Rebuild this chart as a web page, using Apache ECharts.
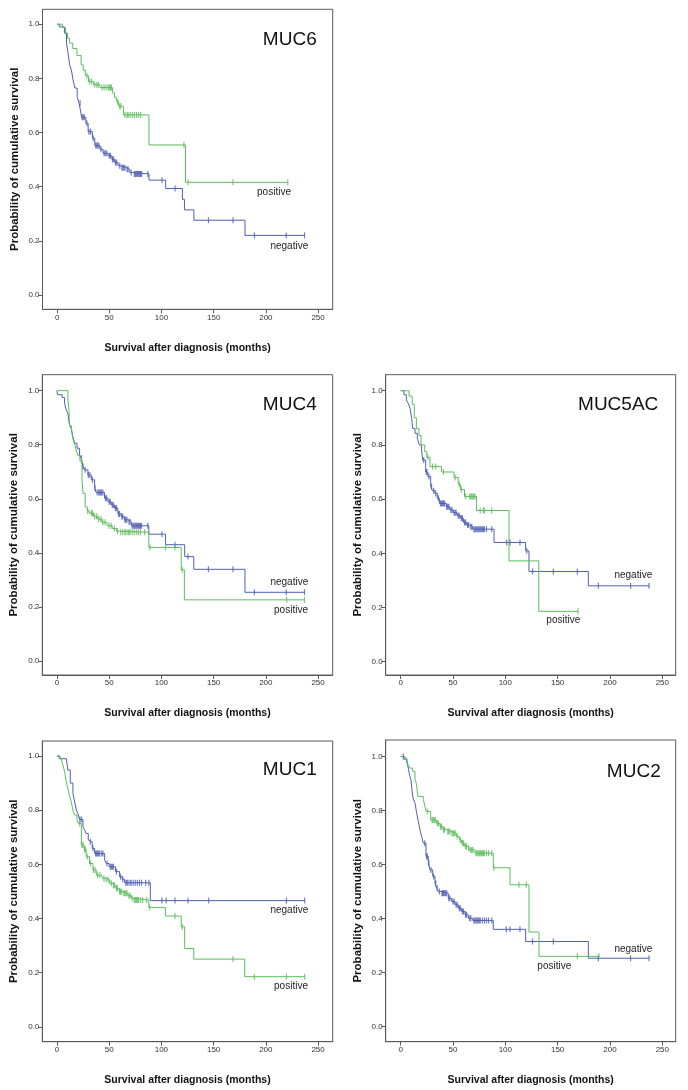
<!DOCTYPE html>
<html>
<head>
<meta charset="utf-8">
<script src="https://cdn.jsdelivr.net/npm/echarts@6/dist/echarts.min.js"></script>
<style>
html,body{margin:0;padding:0;background:#fff;}
#chart{width:688px;height:1090px;}
</style>
</head>
<body>
<div id="chart"></div>
<script>
// ---------- DATA ----------
const panelNames = ['MUC6', 'MUC4', 'MUC5AC', 'MUC1', 'MUC2'];
const xTicks = [0, 50, 100, 150, 200, 250];
const yTicks = [0, 0.2, 0.4, 0.6, 0.8, 1.0];
const xTitle = 'Survival after diagnosis (months)';
const yTitle = 'Probability of cumulative survival';
const groupNames = ['negative', 'positive'];

// MUC6
const muc6NegSteps = [[0,1],[2,0.99],[7,0.967],[9,0.93],[10.5,0.893],[12,0.85],[13.7,0.83],[15.3,0.794],[17,0.764],[19.2,0.733],[21,0.708],[22.3,0.683],[23.5,0.656],[27.5,0.634],[29.7,0.603],[33.8,0.579],[36.1,0.552],[41,0.538],[44,0.523],[49,0.514],[52.5,0.501],[55.2,0.489],[58.4,0.477],[61.6,0.47],[66.4,0.464],[69.6,0.452],[72.8,0.447],[88,0.424],[104,0.393],[120,0.353],[122,0.314],[131,0.276],[180,0.22]];
const muc6NegEnd = 237;
const muc6NegCens = [22,24,25,26,28.5,30.5,32,34.5,37,38,39,40,42,45,46,47.5,50,51,53,54,56,57,60,62,63,64,65,67,68,71,74,75,76,77,78,79,80,81,87,100.5,113,145,168.5,189,219.5,237];
const muc6PosSteps = [[0,1],[5,0.988],[8,0.967],[10,0.948],[12,0.93],[15,0.91],[19,0.884],[23,0.85],[25,0.83],[27,0.81],[30,0.788],[35,0.776],[41,0.766],[53,0.746],[55,0.73],[57,0.714],[59,0.697],[63.5,0.665],[88,0.554],[123,0.416]];
const muc6PosEnd = 221;
const muc6PosCens = [28.5,31,33,36,38,39.5,43,45,47,49,50,51,52,58,60,61,65,67,68,70,72,74,76,78,80,121.5,125.5,168.5,221];

// MUC4
const muc4NegSteps = [[0,1],[0.5,0.985],[5,0.975],[7.3,0.953],[8.9,0.928],[10.5,0.916],[12.1,0.873],[13.7,0.86],[15.3,0.83],[16.9,0.805],[19.2,0.787],[21.7,0.762],[23.3,0.75],[24.9,0.719],[26.5,0.707],[29.7,0.688],[32.9,0.67],[36.1,0.639],[37.7,0.623],[45.6,0.602],[48.9,0.589],[52,0.577],[55.2,0.565],[58.4,0.544],[61.6,0.534],[64.8,0.522],[68,0.515],[71.2,0.5],[88,0.469],[104,0.43],[122.3,0.386],[131,0.339],[180,0.254]];
const muc4NegEnd = 237;
const muc4NegCens = [23.5,25,27,30,31.5,34,36.5,38.5,40,41,42,43,44,46.5,47.5,50,51,53,54,56,57,59,60,62,63,65,66,67,69,70,72,73,74,75,76,77,78,79,80,81,87,100.5,113,125.5,145,168.5,189,219.5,237];
const muc4PosSteps = [[0,1],[10.5,0.97],[11.5,0.93],[12,0.87],[14,0.85],[15.5,0.82],[17,0.8],[18.5,0.78],[20,0.76],[22,0.74],[24,0.67],[25,0.62],[27,0.57],[29,0.555],[31,0.547],[35,0.535],[39,0.525],[43,0.513],[48,0.5],[53,0.49],[57,0.48],[60,0.476],[88,0.42],[119,0.337],[122,0.226]];
const muc4PosEnd = 237;
const muc4PosCens = [23.5,29.5,33,34,36,38,40,42,44,46,50,52,55,58,61,63,65,66,68,69,70,72,74,76,78,80,84,89,104,113,120,220,237];

// MUC5AC
const muc5acNegSteps = [[0,1],[3.2,0.985],[5.4,0.966],[7.3,0.953],[9,0.935],[10.5,0.898],[11.5,0.861],[13.7,0.843],[15.9,0.824],[17.8,0.8],[20,0.781],[21,0.744],[23.9,0.7],[26,0.683],[28.7,0.646],[30.5,0.631],[32.8,0.621],[35,0.603],[37,0.584],[43.6,0.572],[47,0.56],[50.3,0.55],[54,0.539],[57.3,0.529],[60,0.514],[63,0.504],[66.2,0.498],[68.8,0.489],[89.2,0.44],[119.4,0.409],[122.6,0.333],[179.3,0.28]];
const muc5acNegEnd = 237.3;
const muc5acNegCens = [22,24.5,25,27,29.5,31.5,33.5,36,38,39,40,41,42,44,45,46,48,49,51,52,53,55,56,58,59,61,62,64,65,67,68,70,71,72,73,74,75,76,77,78,79,80,82,87,101.3,104.5,114,120.5,126,145.9,168.8,188.9,219.7,237.3];
const muc5acPosSteps = [[0,1],[8,0.98],[11,0.95],[13,0.9],[15,0.86],[17.5,0.835],[19.5,0.8],[23,0.775],[25,0.754],[28,0.72],[39,0.7],[51,0.68],[55,0.655],[57,0.635],[61,0.61],[72.5,0.558],[103.5,0.372],[132,0.186]];
const muc5acPosEnd = 169.5;
const muc5acPosCens = [26,30.5,33.5,41,52,56,58,62,66,67,68,69,70,71,76,79,80,87,169.5];

// MUC1
const muc1NegSteps = [[0,1],[3,0.99],[9,0.985],[10.5,0.948],[12.8,0.9],[15.3,0.862],[17,0.83],[18.6,0.8],[20,0.788],[21.7,0.766],[24.9,0.739],[26.5,0.727],[28,0.714],[30,0.69],[31.3,0.683],[33.8,0.659],[36.1,0.64],[45.7,0.616],[47.3,0.603],[50,0.591],[56,0.573],[60,0.554],[62.6,0.545],[64.8,0.532],[89.4,0.466]];
const muc1NegEnd = 237.2;
const muc1NegCens = [22,23.5,32,34.5,37,38,39,40,41,43,44,48,51,52,53,54,57,61,63,66,67,68,70,71,73,75,77,79,81,85,88,100.5,104.6,113,125.5,145.3,219.7,237.2];
const muc1PosSteps = [[0,1],[2,0.99],[4,0.985],[5.7,0.967],[7.4,0.942],[8.9,0.905],[10.5,0.88],[12.1,0.85],[13.8,0.83],[15.3,0.8],[17,0.782],[19.2,0.764],[20.5,0.751],[23.4,0.671],[26,0.655],[28,0.628],[31.2,0.603],[34.5,0.579],[37.7,0.56],[42.5,0.554],[44,0.548],[46.6,0.544],[50.4,0.53],[53.6,0.523],[56.5,0.511],[60,0.499],[63.3,0.493],[68,0.484],[71.2,0.475],[73,0.468],[88,0.441],[103.8,0.409],[119,0.369],[122.3,0.289],[131,0.25],[179.8,0.185]];
const muc1PosEnd = 237.2;
const muc1PosCens = [21.7,24,25,26.5,27,29,32,35,36.5,39,41,45,47,49,52,54,55,57,58,60,61,62,64,65,66,67,69,70,72,74,75,76,77,78,80,82,86,88.8,113,120,168.6,189,219.7,237.2];

// MUC2
const muc2NegSteps = [[0,1],[3.2,0.99],[5.7,0.981],[7.3,0.957],[8.6,0.93],[9.8,0.914],[10.8,0.877],[11.8,0.846],[13.7,0.827],[15.3,0.79],[16.9,0.759],[18.5,0.728],[20,0.704],[21.7,0.679],[24.2,0.63],[26.4,0.605],[28,0.58],[30.6,0.556],[32.8,0.531],[34.4,0.512],[36,0.5],[38.8,0.494],[45.5,0.475],[48.7,0.463],[52,0.451],[55.1,0.438],[58.3,0.426],[61.5,0.414],[64.6,0.401],[68.8,0.393],[88.5,0.36],[119.4,0.315],[179.3,0.253]];
const muc2NegEnd = 237.3;
const muc2NegCens = [2.5,23,25,25.5,27,29,31.5,33.5,35,37,39.5,40,41,42,43,44,46,47,50,51,53,54,56,57,59,60,62,63,66,67,70,71,72,73,74,75,76,78,80,82,84,87,101,104.5,114,126,145.9,188.9,219.7,237.3];
const muc2PosSteps = [[0,1],[3,0.994],[5.7,0.988],[7,0.969],[8.9,0.957],[11.5,0.944],[13.7,0.914],[15,0.9],[16.5,0.852],[21.7,0.84],[23.2,0.815],[24.5,0.796],[28.7,0.765],[34,0.753],[37.6,0.74],[40.5,0.729],[44,0.722],[48,0.716],[53.2,0.704],[56,0.691],[58.3,0.679],[61.2,0.667],[64.6,0.66],[66,0.654],[71,0.642],[88.5,0.588],[104.5,0.525],[122.6,0.35],[132.2,0.26]];
const muc2PosEnd = 189.5;
const muc2PosCens = [25.5,30,31,32,33,35,36,38,39,41,42,45,46,47,49,50,51,52,54,57,59,60,62,63,65,67,68,69,72,73,74,75,76,77,78,79,80,82,84,87,89,113,120,168.8,189.5];

// ---------- LAYOUT / STYLE ----------
const colors = { negative: '#4f5fb2', positive: '#5cbd5c' };
const FONT = '"Liberation Sans", Arial, Helvetica, sans-serif';

const panels = [
  { name: 'MUC6', neg: [muc6NegSteps, muc6NegEnd, muc6NegCens], pos: [muc6PosSteps, muc6PosEnd, muc6PosCens],
    grid: { left: 42.5, top: 9.3, width: 290.2, height: 300 }, x: [-14, 264], y: [-0.053, 1.055],
    title: [316.7, 40], negLbl: [289.3, 246.7], posLbl: [274, 192.3] },
  { name: 'MUC4', neg: [muc4NegSteps, muc4NegEnd, muc4NegCens], pos: [muc4PosSteps, muc4PosEnd, muc4PosCens],
    grid: { left: 42.3, top: 374.7, width: 290.4, height: 300.3 }, x: [-14, 264], y: [-0.052, 1.059],
    title: [316.7, 405], negLbl: [289.3, 582.3], posLbl: [291, 610] },
  { name: 'MUC5AC', neg: [muc5acNegSteps, muc5acNegEnd, muc5acNegCens], pos: [muc5acPosSteps, muc5acPosEnd, muc5acPosCens],
    grid: { left: 385.7, top: 374.7, width: 290, height: 300.3 }, x: [-14.3, 262.8], y: [-0.049, 1.059],
    title: [658.3, 405], negLbl: [633.3, 575], posLbl: [563.3, 620.7] },
  { name: 'MUC1', neg: [muc1NegSteps, muc1NegEnd, muc1NegCens], pos: [muc1PosSteps, muc1PosEnd, muc1PosCens],
    grid: { left: 42.3, top: 741, width: 290.4, height: 300.7 }, x: [-14, 264], y: [-0.055, 1.0555],
    title: [316.7, 770], negLbl: [289.3, 910], posLbl: [291, 986.7] },
  { name: 'MUC2', neg: [muc2NegSteps, muc2NegEnd, muc2NegCens], pos: [muc2PosSteps, muc2PosEnd, muc2PosCens],
    grid: { left: 385.7, top: 740, width: 290, height: 301.7 }, x: [-14.3, 262.8], y: [-0.056, 1.061],
    title: [660.7, 771.7], negLbl: [633.3, 949.3], posLbl: [554.3, 966.7] }
];

function survAt(steps, t) {
  let s = steps[0][1];
  for (const [ti, si] of steps) { if (ti <= t) s = si; else break; }
  return s;
}
function lineData(steps, end) {
  const d = steps.map(p => [p[0], p[1]]);
  d.push([end, steps[steps.length - 1][1]]);
  return d;
}
function censData(steps, cens) {
  return cens.map(t => [t, survAt(steps, t)]);
}

const grids = [], xAxes = [], yAxes = [], series = [], graphics = [];
panels.forEach((p, i) => {
  grids.push(Object.assign({ show: true, borderColor: '#5a5a5a', borderWidth: 1, backgroundColor: 'transparent' }, p.grid));
  xAxes.push({
    type: 'value', gridIndex: i, min: p.x[0], max: p.x[1], position: 'bottom',
    axisLine: { show: true, onZero: false, lineStyle: { color: '#5a5a5a', width: 1 } },
    axisTick: { show: true, length: 4, customValues: xTicks, lineStyle: { color: '#5a5a5a' } },
    axisLabel: { show: true, customValues: xTicks, fontFamily: FONT, fontSize: 8, color: '#333', margin: 4, formatter: v => String(v) },
    splitLine: { show: false },
    name: xTitle, nameLocation: 'middle', nameGap: 33,
    nameTextStyle: { fontFamily: FONT, fontSize: 10.5, fontWeight: 'bold', color: '#111' }
  });
  yAxes.push({
    type: 'value', gridIndex: i, min: p.y[0], max: p.y[1], position: 'left',
    axisLine: { show: true, onZero: false, lineStyle: { color: '#5a5a5a', width: 1 } },
    axisTick: { show: true, length: 4, customValues: yTicks, lineStyle: { color: '#5a5a5a' } },
    axisLabel: { show: true, customValues: yTicks, fontFamily: FONT, fontSize: 8, color: '#333', margin: 3, formatter: v => v.toFixed(1) },
    splitLine: { show: false },
    name: yTitle, nameLocation: 'middle', nameGap: 22, nameRotate: 90,
    nameTextStyle: { fontFamily: FONT, fontSize: 11.5, fontWeight: 'bold', color: '#111' }
  });
  [['negative', p.neg], ['positive', p.pos]].forEach(([g, arr]) => {
    const [steps, end, cens] = arr;
    series.push({
      type: 'line', name: g, xAxisIndex: i, yAxisIndex: i, step: 'end',
      data: lineData(steps, end), showSymbol: false, symbol: 'none',
      lineStyle: { color: colors[g], width: 1 }, itemStyle: { color: colors[g] },
      silent: true, z: 3
    });
    series.push({
      type: 'scatter', name: g + ' censored', xAxisIndex: i, yAxisIndex: i,
      data: censData(steps, cens), symbol: 'rect', symbolSize: [1.2, 6],
      itemStyle: { color: colors[g] }, silent: true, z: 4
    });
  });
  graphics.push({ type: 'text', x: p.title[0], y: p.title[1],
    style: { text: p.name, font: '19px ' + FONT, fill: '#111', textAlign: 'right', textVerticalAlign: 'middle' } });
  graphics.push({ type: 'text', x: p.negLbl[0], y: p.negLbl[1],
    style: { text: groupNames[0], font: '10px ' + FONT, fill: '#222', textAlign: 'center', textVerticalAlign: 'middle' } });
  graphics.push({ type: 'text', x: p.posLbl[0], y: p.posLbl[1],
    style: { text: groupNames[1], font: '10px ' + FONT, fill: '#222', textAlign: 'center', textVerticalAlign: 'middle' } });
});

const chart = echarts.init(document.getElementById('chart'), null, { renderer: 'canvas' });
chart.setOption({
  backgroundColor: '#ffffff',
  animation: false,
  grid: grids, xAxis: xAxes, yAxis: yAxes, series: series, graphic: graphics
});
</script>
</body>
</html>
